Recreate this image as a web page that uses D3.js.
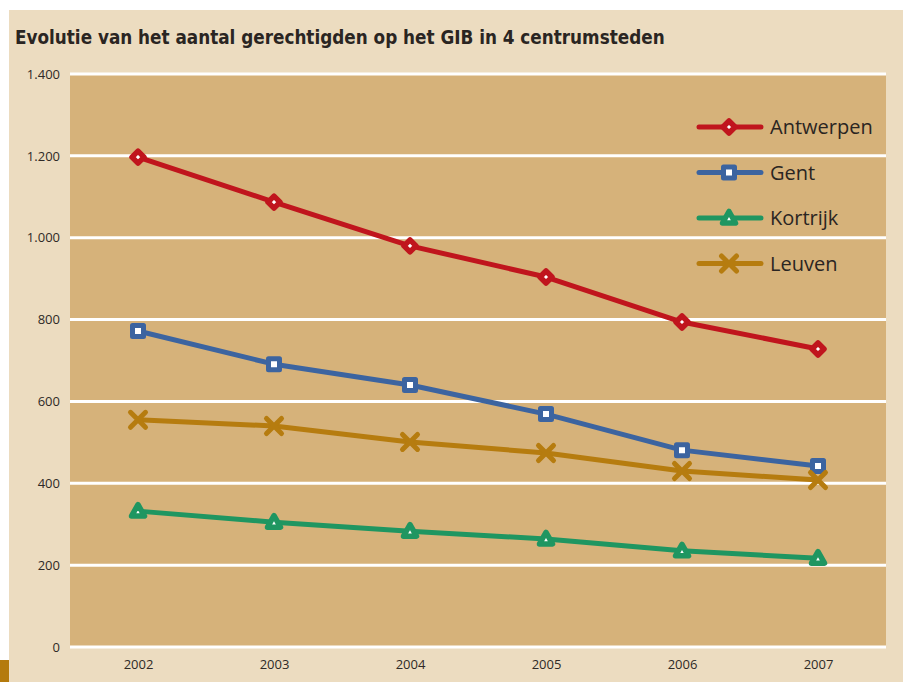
<!DOCTYPE html>
<html>
<head>
<meta charset="utf-8">
<script src="https://cdn.jsdelivr.net/npm/d3@7"></script>
<style>
  body { margin: 0; background: #fff; }
  text { font-family: "Open Sans", "DejaVu Sans", sans-serif; }
</style>
</head>
<body>
<div class="chartWrap"></div>
<script>
// data
var years = ['2002', '2003', '2004', '2005', '2006', '2007'];
var antwerpen = [1197, 1087, 980, 904, 794, 728];
var gent = [772, 691, 640, 569, 481, 442];
var kortrijk = [332, 305, 283, 264, 235, 217];
var leuven = [555, 540, 501, 474, 430, 408];
var yTicks = [0, 200, 400, 600, 800, 1000, 1200, 1400];
var title = 'Evolutie van het aantal gerechtigden op het GIB in 4 centrumsteden';

var seriesList = [
  {name: 'Antwerpen', values: antwerpen, color: '#c0151d', marker: 'diamond'},
  {name: 'Gent', values: gent, color: '#3c64a0', marker: 'square'},
  {name: 'Kortrijk', values: kortrijk, color: '#1f9661', marker: 'triangle'},
  {name: 'Leuven', values: leuven, color: '#b67c0f', marker: 'cross'}
];

var width = 903, height = 682;
var plot = {left: 70, right: 886, top: 74, bottom: 647};

var svg = d3.select('.chartWrap')
  .append('svg')
  .attr('width', width)
  .attr('height', height);

// backgrounds
svg.append('rect').attr('x', 9).attr('y', 10).attr('width', width - 9).attr('height', height - 10).style('fill', '#ecdcc0');
svg.append('rect').attr('x', 0).attr('y', 660).attr('width', 9).attr('height', 22).style('fill', '#b47a0c');
svg.append('rect')
  .attr('x', plot.left).attr('y', plot.top)
  .attr('width', plot.right - plot.left).attr('height', plot.bottom - plot.top)
  .style('fill', '#d6b27a');

// title
var t = svg.append('text')
  .attr('x', 15).attr('y', 44)
  .style('font-family', '"DejaVu Sans Condensed", "DejaVu Sans", sans-serif')
  .style('font-weight', 'bold')
  .style('font-size', '20px')
  .style('fill', '#2a2522')
  .text(title);
var tw = t.node().getComputedTextLength();
t.style('font-size', (20 * 650 / tw) + 'px');

var x = d3.scalePoint().domain(years).range([plot.left, plot.right]).padding(0.5);
var y = d3.scaleLinear().domain([0, 1400]).range([plot.bottom, plot.top]);

// gridlines
svg.append('g').selectAll('line')
  .data(yTicks)
  .enter()
    .append('line')
    .attr('x1', plot.left).attr('x2', plot.right)
    .attr('y1', function(d){ return y(d); })
    .attr('y2', function(d){ return y(d); })
    .style('stroke', '#fff')
    .style('stroke-width', 3);

// y axis
var yAxis = svg.append('g')
  .attr('transform', 'translate(' + (plot.left - 10) + ',0)')
  .call(d3.axisLeft(y).tickValues(yTicks).tickSize(0).tickPadding(0)
    .tickFormat(function(d){ return d3.format(',')(d).replace(/,/g, '.'); }));
yAxis.select('.domain').remove();
yAxis.selectAll('text').style('font-size', '13px').style('fill', '#2f2a27').style('font-family', '"Open Sans", sans-serif');

// x axis
var xAxis = svg.append('g')
  .attr('transform', 'translate(0,' + (plot.bottom + 13) + ')')
  .call(d3.axisBottom(x).tickSize(0).tickPadding(0));
xAxis.select('.domain').remove();
xAxis.selectAll('text').style('font-size', '13px').style('fill', '#2f2a27').style('font-family', '"Open Sans", sans-serif');

function drawMarker(g, type, color){
  if(type == 'diamond'){
    g.append('path').attr('d', 'M0,-6L6,0L0,6L-6,0Z')
      .style('fill', '#fff').style('stroke', color).style('stroke-width', 5.5).style('stroke-linejoin', 'round');
  } else if(type == 'square'){
    g.append('rect').attr('x', -5.5).attr('y', -5.5).attr('width', 11).attr('height', 11)
      .style('fill', '#fff').style('stroke', color).style('stroke-width', 5).style('stroke-linejoin', 'round');
  } else if(type == 'triangle'){
    g.append('path').attr('d', 'M0,-6.5L6.5,5L-6.5,5Z')
      .style('fill', '#fff').style('stroke', color).style('stroke-width', 5.5).style('stroke-linejoin', 'round');
  } else {
    g.append('path').attr('d', 'M-7.5,-7.5L7.5,7.5M-7.5,7.5L7.5,-7.5')
      .style('fill', 'none').style('stroke', color).style('stroke-width', 5).style('stroke-linecap', 'round');
  }
}

var line = d3.line()
  .x(function(d, i){ return x(years[i]); })
  .y(function(d){ return y(d); });

seriesList.forEach(function(s){
  var g = svg.append('g');
  g.append('path')
    .attr('d', line(s.values))
    .style('fill', 'none')
    .style('stroke', s.color)
    .style('stroke-width', 5)
    .style('stroke-linejoin', 'round');
  g.selectAll('g.pt')
    .data(s.values)
    .enter()
      .append('g')
      .attr('class', 'pt')
      .attr('transform', function(d, i){ return 'translate(' + x(years[i]) + ',' + y(d) + ')'; })
      .each(function(){ drawMarker(d3.select(this), s.marker, s.color); });
});

// legend
var legend = svg.append('g').attr('transform', 'translate(699,127)');
seriesList.forEach(function(s, i){
  var lg = legend.append('g').attr('transform', 'translate(0,' + (i * 45.5) + ')');
  lg.append('line').attr('x1', 0).attr('x2', 62).attr('y1', 0).attr('y2', 0)
    .style('stroke', s.color).style('stroke-width', 5).style('stroke-linecap', 'round');
  var m = lg.append('g').attr('transform', 'translate(30,0)');
  drawMarker(m, s.marker, s.color);
  lg.append('text').attr('x', 71).attr('y', 7)
    .style('font-size', '20px').style('fill', '#2a2522')
    .text(s.name);
});
</script>
</body>
</html>
